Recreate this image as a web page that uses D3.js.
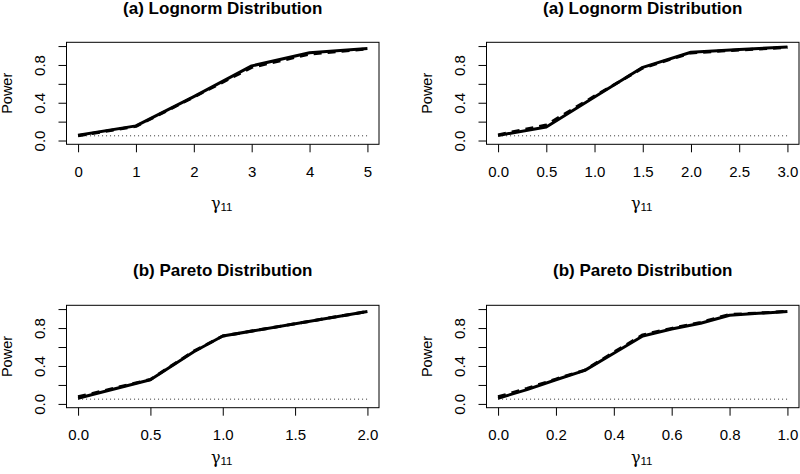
<!DOCTYPE html>
<html>
<head>
<meta charset="utf-8">
<script src="https://cdnjs.cloudflare.com/ajax/libs/d3/7.8.5/d3.min.js"></script>
<style>
  html, body { margin: 0; padding: 0; background: #fff; }
  svg { display: block; }
</style>
</head>
<body>
<svg id="chart" width="800" height="474"></svg>
<script>
// ---- Data ----
const titles = ["(a) Lognorm Distribution", "(a) Lognorm Distribution", "(b) Pareto Distribution", "(b) Pareto Distribution"];

const p1_x = [0, 1, 2, 3, 4, 5];
const p1_solid = [0.055, 0.155, 0.465, 0.79, 0.93, 0.975];
const p1_dashed = [0.05, 0.15, 0.46, 0.775, 0.915, 0.97];
const p1_ticks = [0, 1, 2, 3, 4, 5];
const p1_tickLabels = ["0", "1", "2", "3", "4", "5"];

const p2_x = [0, 0.5, 1, 1.5, 2, 2.5, 3];
const p2_solid = [0.054, 0.143, 0.46, 0.775, 0.935, 0.965, 0.99];
const p2_dashed = [0.06, 0.165, 0.47, 0.768, 0.928, 0.958, 0.985];
const p2_ticks = [0, 0.5, 1, 1.5, 2, 2.5, 3];
const p2_tickLabels = ["0.0", "0.5", "1.0", "1.5", "2.0", "2.5", "3.0"];

const p3_x = [0, 0.1, 0.5, 0.8, 1, 2];
const p3_solid = [0.06, 0.1, 0.255, 0.55, 0.716, 0.975];
const p3_dashed = [0.075, 0.11, 0.258, 0.556, 0.716, 0.975];
const p3_ticks = [0, 0.5, 1, 1.5, 2];
const p3_tickLabels = ["0.0", "0.5", "1.0", "1.5", "2.0"];

const p4_x = [0, 0.1, 0.2, 0.3, 0.4, 0.5, 0.6, 0.7, 0.8, 0.9, 1.0];
const p4_solid = [0.06, 0.15, 0.255, 0.354, 0.535, 0.716, 0.79, 0.85, 0.935, 0.955, 0.975];
const p4_dashed = [0.075, 0.163, 0.262, 0.357, 0.545, 0.728, 0.797, 0.86, 0.943, 0.958, 0.977];
const p4_ticks = [0, 0.2, 0.4, 0.6, 0.8, 1.0];
const p4_tickLabels = ["0.0", "0.2", "0.4", "0.6", "0.8", "1.0"];

const yTicks = [0, 0.2, 0.4, 0.6, 0.8, 1.0];
const yTickLabels = ["0.0", "", "0.4", "", "0.8", ""];
const alphaLevel = 0.05;

// ---- Layout ----
const panels = [
  { title: titles[0], x: p1_x, solid: p1_solid, dashed: p1_dashed, ticks: p1_ticks, labels: p1_tickLabels, xdom: [0, 5], left: 66.5, right: 379, top: 42.3, bottom: 144.3, titleY: 14, tickY: 177, xlabY: 209 },
  { title: titles[1], x: p2_x, solid: p2_solid, dashed: p2_dashed, ticks: p2_ticks, labels: p2_tickLabels, xdom: [0, 3], left: 486.5, right: 799, top: 42.3, bottom: 144.3, titleY: 14, tickY: 177, xlabY: 209 },
  { title: titles[2], x: p3_x, solid: p3_solid, dashed: p3_dashed, ticks: p3_ticks, labels: p3_tickLabels, xdom: [0, 2], left: 66.5, right: 379, top: 305.3, bottom: 407.7, titleY: 276, tickY: 440, xlabY: 463 },
  { title: titles[3], x: p4_x, solid: p4_solid, dashed: p4_dashed, ticks: p4_ticks, labels: p4_tickLabels, xdom: [0, 1], left: 486.5, right: 799, top: 305.3, bottom: 407.7, titleY: 276, tickY: 440, xlabY: 463 }
];

const svg = d3.select("#chart");
const font = "'Liberation Sans', Arial, sans-serif";

function ext(d) { const r = d[1] - d[0]; return [d[0] - 0.04 * r, d[1] + 0.04 * r]; }

panels.forEach(p => {
  const x = d3.scaleLinear().domain(ext(p.xdom)).range([p.left, p.right]);
  const y = d3.scaleLinear().domain(ext([0, 1])).range([p.bottom, p.top]);
  const g = svg.append("g");

  // title
  g.append("text").attr("x", (p.left + p.right) / 2).attr("y", p.titleY)
    .attr("text-anchor", "middle").attr("font-family", font).attr("font-weight", "bold")
    .attr("font-size", 17).attr("fill", "#000").text(p.title);

  // box
  g.append("rect").attr("x", p.left).attr("y", p.top)
    .attr("width", p.right - p.left).attr("height", p.bottom - p.top)
    .attr("fill", "none").attr("stroke", "#000").attr("stroke-width", 1);

  // x axis
  const xAxis = d3.axisBottom(x).tickValues(p.ticks).tickSize(8).tickPadding(6)
    .tickFormat((d, i) => p.labels[i]);
  const gx = g.append("g").attr("transform", `translate(0,${p.bottom})`).call(xAxis);
  gx.select(".domain").remove();
  gx.selectAll("line").attr("stroke", "#000");
  gx.selectAll("text").attr("font-family", font).attr("font-size", 15).attr("fill", "#000")
    .attr("dy", null).attr("y", p.tickY - p.bottom);

  // y axis
  const yAxis = d3.axisLeft(y).tickValues(yTicks).tickSize(8).tickFormat((d, i) => yTickLabels[i]);
  const gy = g.append("g").attr("transform", `translate(${p.left},0)`).call(yAxis);
  gy.select(".domain").remove();
  gy.selectAll("line").attr("stroke", "#000");
  gy.selectAll("text").attr("font-family", font).attr("font-size", 15).attr("fill", "#000")
    .attr("text-anchor", "middle").attr("x", 0).attr("dy", null).attr("y", 0)
    .attr("transform", "translate(-25.5,0) rotate(-90)").attr("dominant-baseline", "middle");

  // y label
  g.append("text").attr("transform", `translate(${p.left - 58.5},${(p.top + p.bottom) / 2}) rotate(-90)`)
    .attr("text-anchor", "middle").attr("dominant-baseline", "middle")
    .attr("font-family", font).attr("font-size", 14.5).attr("fill", "#000").text("Power");

  // x label (gamma_11)
  const xl = g.append("text").attr("x", (p.left + p.right) / 2 - 1).attr("y", p.xlabY)
    .attr("text-anchor", "middle").attr("fill", "#000");
  xl.append("tspan").attr("font-family", "'DejaVu Serif', 'Liberation Serif', serif").attr("font-size", 16).text("γ");
  xl.append("tspan").attr("font-family", font).attr("font-size", 11.5).attr("dy", 2).text("11");

  // reference dotted line
  g.append("line").attr("x1", x(p.xdom[0])).attr("x2", x(p.xdom[1]))
    .attr("y1", y(alphaLevel)).attr("y2", y(alphaLevel))
    .attr("stroke", "#333").attr("stroke-width", 1).attr("stroke-dasharray", "1,3");

  const line = d3.line().x(d => x(d[0])).y(d => y(d[1]));
  g.append("path").datum(p.x.map((v, i) => [v, p.dashed[i]])).attr("d", line)
    .attr("fill", "none").attr("stroke", "#000").attr("stroke-width", 3)
    .attr("stroke-dasharray", "8,6").attr("stroke-linejoin", "round");
  g.append("path").datum(p.x.map((v, i) => [v, p.solid[i]])).attr("d", line)
    .attr("fill", "none").attr("stroke", "#000").attr("stroke-width", 3)
    .attr("stroke-linejoin", "round");
});
</script>
</body>
</html>
